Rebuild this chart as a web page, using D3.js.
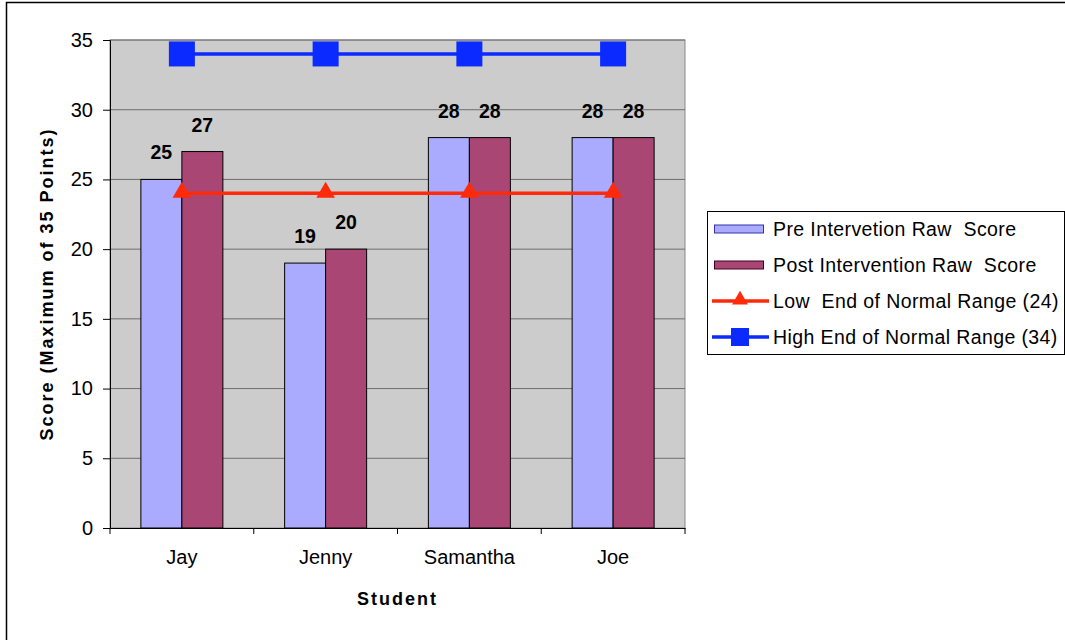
<!DOCTYPE html>
<html>
<head>
<meta charset="utf-8">
<script src="https://cdn.jsdelivr.net/npm/d3@7"></script>
<style>
  body { margin: 0; background: #fff; }
  svg { display: block; font-family: "Liberation Sans", Arial, sans-serif; }
</style>
</head>
<body>
<svg id="chart" width="1065" height="640"></svg>
<script>
// Student scores before and after the intervention
const students = ["Jay", "Jenny", "Samantha", "Joe"];
const preScores = [25, 19, 28, 28];
const postScores = [27, 20, 28, 28];
const lowNormal = [24, 24, 24, 24];
const highNormal = [34, 34, 34, 34];
const yTicks = [0, 5, 10, 15, 20, 25, 30, 35];
const seriesNames = [
  "Pre Intervetion Raw  Score",
  "Post Intervention Raw  Score",
  "Low  End of Normal Range (24)",
  "High End of Normal Range (34)"
];

const colors = { pre: "#aaaaff", post: "#a94673", low: "#ff2a0a", high: "#0a2aff" };
const FONT = "Liberation Sans, Arial, sans-serif";

const svg = d3.select("#chart");

// outer chart frame
svg.append("path")
  .attr("d", "M6.5,660 V2.5 H1100")
  .attr("fill", "none").attr("stroke", "#000").attr("stroke-width", 1.5);

const plot = { left: 110, right: 685, top: 40, bottom: 528 };

const x = d3.scaleBand().domain(students).range([plot.left, plot.right]);
const y = d3.scaleLinear().domain([0, 35]).range([plot.bottom, plot.top]);
const barW = 41;

// plot background
svg.append("rect")
  .attr("x", plot.left).attr("y", plot.top)
  .attr("width", plot.right - plot.left).attr("height", plot.bottom - plot.top)
  .attr("fill", "#cccccc").attr("stroke", "#888").attr("stroke-width", 1);

// horizontal gridlines
svg.append("g").selectAll("line").data(yTicks.filter(d => d > 0)).join("line")
  .attr("x1", plot.left).attr("x2", plot.right)
  .attr("y1", d => y(d)).attr("y2", d => y(d))
  .attr("stroke", "#6e6e6e").attr("stroke-width", 1);

// y axis
const yAxis = svg.append("g").attr("transform", `translate(${plot.left},0)`)
  .call(d3.axisLeft(y).tickValues(yTicks).tickSize(7).tickPadding(10));
yAxis.select(".domain").attr("stroke", "#000");
yAxis.selectAll(".tick line").attr("stroke", "#000");
yAxis.selectAll("text").attr("font-size", 20).attr("fill", "#000").attr("font-family", FONT);

// x axis with ticks between categories
const xAxis = svg.append("g").attr("transform", `translate(0,${plot.bottom})`)
  .call(d3.axisBottom(x).tickSize(0).tickPadding(22));
xAxis.select(".domain").attr("stroke", "#000");
xAxis.selectAll("text").attr("font-size", 20).attr("fill", "#000").attr("font-family", FONT);
const bounds = students.map(s => x(s)).concat([x.range()[1]]);
svg.append("g").selectAll("line").data(bounds).join("line")
  .attr("x1", d => d).attr("x2", d => d)
  .attr("y1", plot.bottom).attr("y2", plot.bottom + 6)
  .attr("stroke", "#000");

// bars with value labels
const center = s => x(s) + x.bandwidth() / 2;
const bars = [
  { values: preScores, offset: -barW, color: colors.pre },
  { values: postScores, offset: 0, color: colors.post }
];
bars.forEach(b => {
  svg.append("g").selectAll("rect").data(students).join("rect")
    .attr("x", s => center(s) + b.offset)
    .attr("y", (s, i) => y(b.values[i]))
    .attr("width", barW)
    .attr("height", (s, i) => plot.bottom - y(b.values[i]))
    .attr("fill", b.color).attr("stroke", "#000").attr("stroke-width", 1);
  svg.append("g").selectAll("text").data(students).join("text")
    .attr("x", s => center(s) + b.offset + barW / 2)
    .attr("y", (s, i) => y(b.values[i]) - 20)
    .attr("text-anchor", "middle")
    .attr("font-size", 19.5).attr("font-weight", "bold")
    .text((s, i) => b.values[i]);
});

// normal-range lines
const line = vals => d3.line().x(d => center(d)).y((d, i) => y(vals[i]))(students);
svg.append("path").attr("d", line(lowNormal))
  .attr("fill", "none").attr("stroke", colors.low).attr("stroke-width", 3.5);
svg.append("g").selectAll("path").data(students).join("path")
  .attr("d", d3.symbol(d3.symbolTriangle, 150))
  .attr("transform", (s, i) => `translate(${center(s)},${y(lowNormal[i]) - 1})`)
  .attr("fill", colors.low);

svg.append("path").attr("d", line(highNormal))
  .attr("fill", "none").attr("stroke", colors.high).attr("stroke-width", 3.5);
svg.append("g").selectAll("rect").data(students).join("rect")
  .attr("x", s => center(s) - 13)
  .attr("y", (s, i) => y(highNormal[i]) - 12.5)
  .attr("width", 26).attr("height", 25)
  .attr("fill", colors.high);

// axis titles
svg.append("text")
  .attr("transform", `translate(53,${(plot.top + plot.bottom) / 2}) rotate(-90)`)
  .attr("text-anchor", "middle").attr("font-size", 18).attr("font-weight", "bold")
  .attr("letter-spacing", 2)
  .text("Score (Maximum of 35 Points)");
svg.append("text")
  .attr("x", (plot.left + plot.right) / 2).attr("y", 605)
  .attr("text-anchor", "middle").attr("font-size", 18).attr("font-weight", "bold")
  .attr("letter-spacing", 2)
  .text("Student");

// legend
const lg = svg.append("g");
lg.append("rect").attr("x", 707.5).attr("y", 211.5).attr("width", 357).attr("height", 143)
  .attr("fill", "#fff").attr("stroke", "#000").attr("stroke-width", 1);
const rowY = [229, 265, 301, 337];
seriesNames.forEach((name, i) => {
  const cy = rowY[i];
  if (i < 2) {
    lg.append("rect").attr("x", 714.5).attr("y", cy - 4).attr("width", 49).attr("height", 8)
      .attr("fill", i === 0 ? colors.pre : colors.post).attr("stroke", i === 0 ? "#3333aa" : "#440022");
  } else {
    const c = i === 2 ? colors.low : colors.high;
    lg.append("line").attr("x1", 712).attr("x2", 769).attr("y1", cy).attr("y2", cy)
      .attr("stroke", c).attr("stroke-width", 3.5);
    if (i === 2) {
      lg.append("path").attr("d", d3.symbol(d3.symbolTriangle, 110))
        .attr("transform", `translate(740,${cy - 1})`).attr("fill", c);
    } else {
      lg.append("rect").attr("x", 731).attr("y", cy - 9).attr("width", 18).attr("height", 18).attr("fill", c);
    }
  }
  lg.append("text").attr("x", 773).attr("y", cy + 7).attr("font-size", 19.5)
    .attr("letter-spacing", 0.4)
    .attr("xml:space", "preserve").style("white-space", "pre").text(name);
});
</script>
</body>
</html>
